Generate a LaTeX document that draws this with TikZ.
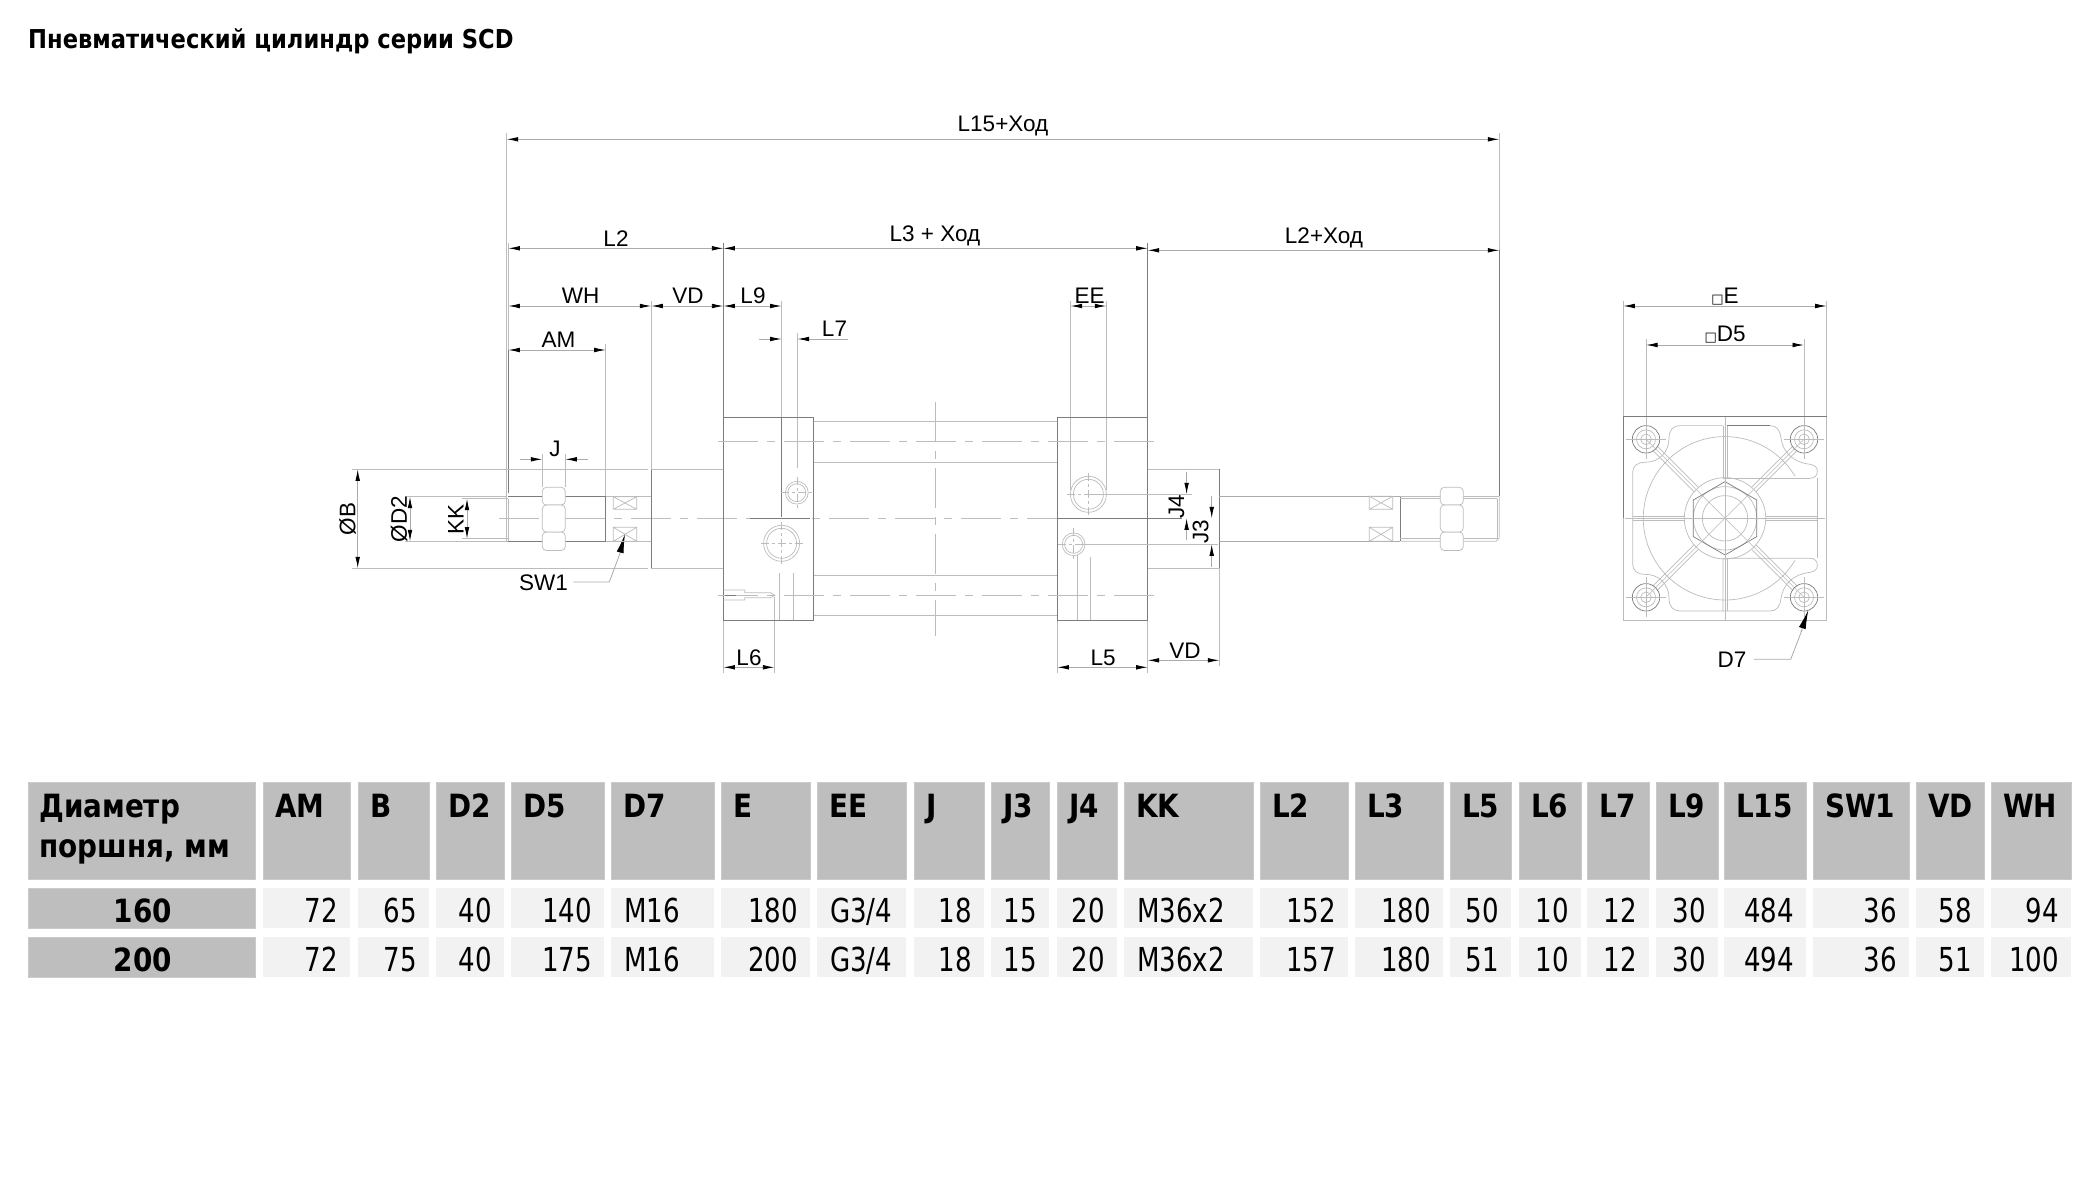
\documentclass[tikz,border=0pt]{standalone}
\usepackage{fontspec}
\usetikzlibrary{arrows.meta}
\setmainfont{Liberation Sans}
\newfontfamily\tfont[FakeStretch=0.79]{DejaVu Sans}
\newfontfamily\tbfont[FakeStretch=0.87]{DejaVu Sans Bold}
\newfontfamily\dvfont{DejaVu Sans}
\definecolor{hdr}{HTML}{BEBEBE}
\definecolor{hdrb}{HTML}{CACACA}
\definecolor{rowc}{HTML}{F2F2F2}
\definecolor{dimc}{HTML}{ABABAB}
\definecolor{objc}{HTML}{7C7C7C}
\definecolor{thin}{HTML}{BCBCBC}
\tikzset{
  ar/.tip={Latex[length=11.5pt,width=4.6pt,black]},
  dim/.style={draw=dimc,line width=0.8pt},
  dimar/.style={dim,{ar}-{ar}},
  endar/.style={dim,-{ar}},
  obj/.style={draw=objc,line width=0.8pt},
  lite/.style={draw=thin,line width=0.7pt},
  center line/.style={draw=thin,line width=0.6pt,dash pattern=on 40pt off 9pt on 8pt off 9pt},
  lbl/.style={inner sep=0pt,font=\fontsize{22.5}{23}\selectfont},
  hcell/.style={fill=hdr,draw=hdrb,line width=1pt},
  vcell/.style={fill=rowc},
  htxt/.style={inner sep=0pt,font=\fontsize{32}{32}\tbfont},
  vtxt/.style={inner sep=0pt,font=\fontsize{33}{33}\tfont},
  flat/.style={draw=thin,line width=0.7pt},
}
\newcommand{\wflat}[4]{\draw[flat] (#1,#2) rectangle (#3,#4) (#1,#2) -- (#3,#4) (#1,#4) -- (#3,#2);}
\newcommand{\hexnut}[1]{%
  \draw[lite,fill=white,rounded corners=4pt] (#1,505) rectangle (#1+23,487.3);
  \draw[lite,fill=white,rounded corners=4pt] (#1,532) rectangle (#1+23,550.5);
  \draw[lite,fill=white,rounded corners=4pt] (#1,505) rectangle (#1+23,532);
}
\begin{document}
\begin{tikzpicture}[x=1pt,y=-1pt]
\useasboundingbox (0,0) rectangle (2084,1180);
\fill[white] (0,0) rectangle (2084,1180);

\node[anchor=base west,inner sep=0pt,font=\fontsize{26}{26}\tbfont] (title) at (28,49) {Пневматический цилиндр серии SCD};

% ---------- table ----------
\draw[hcell] (28,782) rectangle (255,879);
\node[htxt,anchor=base west] (hd1) at (39,817) {Диаметр};
\node[htxt,anchor=base west] (hd2) at (39,857) {поршня, мм};
\draw[hcell] (28,888) rectangle (255,928);
\draw[hcell] (28,937) rectangle (255,977);
\node[htxt,anchor=base] (r160) at (143,922) {160};
\node[htxt,anchor=base] (r200) at (143,971) {200};
\foreach \id/\a/\b/\h/\va/\vb/\m in {
  am/263/350/AM/72/72/0, b/358/429/B/65/75/0, dd/436/504/D2/40/40/0, df/511/604/D5/140/175/0,
  ds/611/714/D7/M16/M16/1, e/721/810/E/180/200/0, ee/817/906/EE/G3\slash 4/G3\slash 4/1, j/914/984/J/18/18/0,
  jt/991/1049/J3/15/15/0, jf/1057/1117/J4/20/20/0, kk/1124/1253/KK/M36x2/M36x2/1, lb/1260/1348/L2/152/157/0,
  lc/1355/1443/L3/180/180/0, le/1450/1511/L5/50/51/0, lf/1519/1581/L6/10/10/0, lg/1587/1649/L7/12/12/0,
  li/1656/1718/L9/30/30/0, lo/1724/1806/L15/484/494/0, sw/1813/1909/SW1/36/36/0, vd/1916/1984/VD/58/51/0,
  wh/1991/2071/WH/94/100/0}{
  \draw[hcell] (\a,782) rectangle (\b,879);
  \fill[vcell] (\a,888) rectangle (\b,928);
  \fill[vcell] (\a,937) rectangle (\b,977);
  \node[htxt,anchor=base west] (h\id) at (\a+12,817) {\h};
  \ifnum\m=1
    \node[vtxt,anchor=base west] (u\id) at (\a+13,922) {\va};
    \node[vtxt,anchor=base west] (w\id) at (\a+13,971) {\vb};
  \else
    \node[vtxt,anchor=base east] (u\id) at (\b-12,922) {\va};
    \node[vtxt,anchor=base east] (w\id) at (\b-12,971) {\vb};
  \fi
}

% ---------- extension lines ----------
\draw[lite] (506.7,133) -- (506.7,496.7);
\draw[lite] (508.3,243) -- (508.3,350);
\draw[obj] (508.3,350) -- (508.3,493);
\draw[lite] (605.7,344) -- (605.7,496.7);
\draw[lite] (651.3,300.7) -- (651.3,469);
\draw[obj] (723.4,243) -- (723.4,417.3);
\draw[lite] (781.6,300.7) -- (781.6,417.3);
\draw[lite] (797.5,333) -- (797.5,468.3);
\draw[obj] (1147.7,243) -- (1147.7,417.3);
\draw[lite] (1070.5,300.7) -- (1070.5,490);
\draw[lite] (1106.3,300.7) -- (1106.3,490);
\draw[lite] (542.3,454) -- (542.3,487.3);
\draw[lite] (565.3,454) -- (565.3,487.3);

% ---------- dimension lines, side view ----------
\draw[dimar] (506.7,139.3) -- (1499.3,139.3);
\draw[lite] (1499.3,133) -- (1499.3,250);
\draw[dimar] (508.3,248.3) -- (723.4,248.3);
\draw[dimar] (723.4,248.3) -- (1147.7,248.3);
\draw[dimar] (1147.7,250.3) -- (1499.3,250.3);
\draw[dimar] (508.3,306) -- (651.3,306);
\draw[dimar] (651.3,306) -- (723.4,306);
\draw[dimar] (723.4,306) -- (781.6,306);
\draw[dimar] (1070.5,306) -- (1106.3,306);
\draw[dimar] (508.3,350) -- (605.7,350);
\draw[endar] (759,339) -- (781.6,339);
\draw[endar] (848,339) -- (797.5,339);
\draw[endar] (520,459.3) -- (542.3,459.3);
\draw[endar] (587.7,459.3) -- (565.3,459.3);
\draw[dimar] (357.7,469.3) -- (357.7,568.3);
\draw[dimar] (410,496.7) -- (410,541.3);
\draw[dimar] (467,498.7) -- (467,538.7);
\draw[dimar] (723.4,667.3) -- (774.4,667.3);
\draw[dimar] (1057.4,667.3) -- (1147.7,667.3);
\draw[dimar] (1147.7,660.3) -- (1219.3,660.3);
\draw[endar] (1186.6,471.7) -- (1186.6,494.3);
\draw[endar] (1186.6,540) -- (1186.6,518.3);
\draw[endar] (1211.7,496) -- (1211.7,518.3);
\draw[endar] (1211.7,566.7) -- (1211.7,544.3);
% lower extensions
\draw[lite] (352.3,469.3) -- (648,469.3);
\draw[lite] (352.3,568.3) -- (648,568.3);
\draw[lite] (405,496.7) -- (506.7,496.7);
\draw[lite] (405,541.3) -- (506.7,541.3);
\draw[lite] (461.7,498.7) -- (508.3,498.7);
\draw[lite] (461.7,538.7) -- (508.3,538.7);
\draw[lite] (723.4,620.3) -- (723.4,672.7);
\draw[lite] (774.4,596.7) -- (774.4,672.7);
\draw[lite] (1057.4,620.3) -- (1057.4,672.7);
\draw[lite] (1147.7,620.3) -- (1147.7,672.7);
\draw[lite] (1219.3,568.3) -- (1219.3,666);
% SW1 leader
\draw[dim] (573.3,582) -- (609.3,582) -- (622,548);
\draw[dim,-{Latex[length=19pt,width=7pt,black]}] (620,553) -- (625,534);

% ---------- left rod ----------
\draw[center line] (499,518.3) -- (1150,518.3);
\draw[obj] (508.3,496.7) -- (605.7,496.7) -- (605.7,541.3) -- (508.3,541.3);
\draw[lite] (506.7,496.7) -- (506.7,541.3) -- (508.3,541.3);
\draw[lite] (508.3,498.7) -- (508.3,541.3);
\hexnut{542.3}
\draw[lite] (605.7,496.7) -- (651.3,496.7);
\draw[lite] (605.7,541.3) -- (651.3,541.3);
\wflat{613.3}{496.7}{636.7}{509.3}
\wflat{613.3}{527.3}{636.7}{541.3}
\draw[obj] (651.3,469.3) -- (651.3,568.3);
\draw[lite] (651.3,469.3) -- (723.4,469.3);
\draw[lite] (651.3,568.3) -- (723.4,568.3);

% ---------- body ----------
\draw[obj] (723.4,417.3) rectangle (813.6,620.3);
\draw[obj] (1057.4,417.3) rectangle (1147.7,620.3);
\draw[obj] (781.6,417.3) -- (781.6,516.7);
\draw[lite] (813.6,421.7) -- (1057.4,421.7);
\draw[lite] (813.6,462.3) -- (1057.4,462.3);
\draw[lite] (813.6,575.7) -- (1057.4,575.7);
\draw[lite] (813.6,615.7) -- (1057.4,615.7);
\draw[center line] (718,441.3) -- (1154,441.3);
\draw[center line] (718,595.3) -- (1154,595.3);
\draw[obj] (750,518.3) -- (810,518.3);
\draw[obj] (1057.4,518.3) -- (1182,518.3);
\draw[center line] (935.5,401.7) -- (935.5,635.7);
% ports
\foreach \px/\py/\ra/\rb/\cl in {796.8/492.7/11.4/9/16, 781.6/543.3/18/15/21, 1088.4/494.3/18/15/21, 1073.6/544.3/11.4/9/16}{
  \draw[lite] (\px,\py) circle[radius=\ra pt];
  \draw[lite] (\px,\py) circle[radius=\rb pt];
  \draw[draw=thin,line width=0.5pt,dash pattern=on 8pt off 3pt on 3pt off 3pt] (\px-\cl,\py) -- (\px+\cl,\py);
  \draw[draw=thin,line width=0.5pt,dash pattern=on 8pt off 3pt on 3pt off 3pt] (\px,\py-\cl) -- (\px,\py+\cl);
}
\draw[lite] (1092,494.3) -- (1192.4,494.3);
\draw[lite] (1077,544.3) -- (1218,544.3);
\draw[lite] (779.2,573) -- (779.2,620);
\draw[lite] (793.7,573) -- (793.7,620);
\draw[lite] (1077.7,555) -- (1077.7,620);
\draw[lite] (1090.5,557) -- (1090.5,620);
% mounting screw
\draw[lite] (723.4,590) -- (744.8,590) -- (744.8,592.7) -- (770.6,592.7) -- (775,595.3) -- (770.6,597.7) -- (744.8,597.7) -- (744.8,600) -- (723.4,600);
\draw[draw=objc,line width=1.6pt] (725,595.3) -- (736,595.3);

% right cap and rod
\draw[lite] (1147.7,469.3) -- (1219.3,469.3);
\draw[lite] (1147.7,568.3) -- (1219.3,568.3);
\draw[obj] (1219.3,469.3) -- (1219.3,568.3);
\draw[dim] (1219.3,496.3) -- (1400.3,496.3);
\draw[dim] (1219.3,541.3) -- (1400.3,541.3);
\wflat{1369.3}{496.3}{1392.7}{509.3}
\wflat{1369.3}{527.3}{1392.7}{541.3}
\draw[obj] (1400.3,496.3) -- (1400.3,541.3);
\draw[lite] (1400.3,496.3) -- (1499.3,496.3);
\draw[lite] (1400.3,498.7) -- (1497,498.7);
\draw[lite] (1400.3,538.7) -- (1497,538.7);
\draw[lite] (1400.3,541.3) -- (1496,541.3) -- (1499.3,538) -- (1499.3,496.3);
\draw[lite] (1497,498.7) -- (1497,538.7);
\hexnut{1440.3}
\draw[obj] (1499.3,250.3) -- (1499.3,496.3);

% ---------- end view ----------
\draw[lite] (1623.3,300.7) -- (1623.3,416.7);
\draw[lite] (1826.7,300.7) -- (1826.7,416.7);
\draw[lite] (1646,339) -- (1646,420);
\draw[lite] (1804,339) -- (1804,420);
\draw[dimar] (1623.3,306) -- (1826.7,306);
\draw[dimar] (1646,345) -- (1804,345);
\draw[lite] (1623.3,416.7) rectangle (1826.7,620.3);
\draw[obj] (1623.3,518.3) -- (1623.3,416.7) -- (1826.7,416.7);
\begin{scope}[shift={(1725,518.3)}]
  \draw[lite] (70,-42.1) arc[start angle=31,end angle=329,radius=81.7pt];
  \draw[lite] (0,0) circle[radius=40.7pt];
  \draw[lite] (0,0) circle[radius=22.7pt];
  \draw[lite] (0,0) circle[radius=31.7pt];
  \draw[obj,line width=0.7pt] (0,-36.7) -- (31.7,-18.3) -- (31.7,18.3) -- (0,36.7) -- (-31.7,18.3) -- (-31.7,-18.3) -- cycle;
  % outline
  \draw[lite] (-2,-92.7) -- (-45,-92.7) .. controls (-52,-92.7) and (-56,-88) .. (-56,-80)
     .. controls (-56,-66) and (-66,-56) .. (-80,-56) .. controls (-88,-56) and (-92.3,-52) .. (-92.3,-46)
     -- (-92.3,46) .. controls (-92.3,52) and (-88,56) .. (-80,56) .. controls (-66,56) and (-56,66) .. (-56,80)
     .. controls (-56,88) and (-52,92.7) .. (-45,92.7) -- (45,92.7)
     .. controls (52,92.7) and (55,88) .. (56,80) .. controls (58,66) and (68,56) .. (85,54)
     .. controls (90,53) and (92.3,51) .. (92.3,47) .. controls (92.3,43) and (90,40) .. (85,40) -- (-2,40) -- (-2,92.7);
  \draw[obj,line width=0.7pt] (2,-92.7) -- (45,-92.7);
  \draw[lite] (45,-92.7) .. controls (52,-92.7) and (55,-88) .. (56,-80) .. controls (58,-66) and (68,-56) .. (85,-54)
     .. controls (90,-53) and (92.3,-51) .. (92.3,-47) .. controls (92.3,-43) and (90,-40) .. (85,-40);
  \draw[lite] (85,-40) -- (-2,-40) -- (-2,-92.7);
  \draw[lite] (92.3,-40) -- (92.3,40);
  \draw[lite] (2,-92.7) -- (2,-40);
  \draw[lite] (2,40) -- (2,92.7);
  \draw[lite] (-92.3,-2) -- (-40.7,-2);
  \draw[lite] (-92.3,2) -- (-40.7,2);
  \draw[lite] (40.7,-2) -- (92.3,-2);
  \draw[lite] (40.7,2) -- (92.3,2);
  % diagonal ribs
  \foreach \sa/\sb in {1/1,1/-1,-1/1,-1/-1}{
    \draw[lite] (\sa*70+2.2*\sa,\sb*70-2.2*\sb) -- (\sa*29+2.2*\sa,\sb*29-2.2*\sb);
    \draw[lite] (\sa*70-2.2*\sa,\sb*70+2.2*\sb) -- (\sa*29-2.2*\sa,\sb*29+2.2*\sb);
  }
  \draw[draw=thin,line width=0.5pt] (-79,-79) -- (79,79);
  \draw[draw=thin,line width=0.5pt] (-79,79) -- (79,-79);
\end{scope}
\draw[lite] (1625,518.3) -- (1825,518.3);
\draw[lite] (1725,416.7) -- (1725,620.3);
\foreach \bx/\by in {1646/439.3,1804/439.3,1646/597.3,1804/597.3}{
  \draw[obj,line width=0.7pt] (\bx,\by) circle[radius=13.7pt];
  \draw[lite] (\bx,\by) circle[radius=9.5pt];
  \draw[lite] (\bx,\by) circle[radius=5.3pt];
  \draw[draw=thin,line width=0.5pt] (\bx-20,\by) -- (\bx+20,\by);
  \draw[draw=thin,line width=0.5pt] (\bx,\by-20) -- (\bx,\by+20);
}
% D7 leader
\draw[dim] (1754,659.3) -- (1790.7,659.3) -- (1802,630);
\draw[dim,-{Latex[length=19pt,width=7pt,black]}] (1801,632) -- (1808.3,610);

% ---------- labels ----------
\node[lbl] (tL15) at (1003,126) {L15+Ход};
\node[lbl] (tL2a) at (616,239) {L2};
\node[lbl] (tL3) at (935,236) {L3 + Ход};
\node[lbl] (tL2b) at (1324,238) {L2+Ход};
\node[lbl] (tWH) at (580.5,296) {WH};
\node[lbl] (tVDa) at (688,296) {VD};
\node[lbl] (tL9) at (753,296) {L9};
\node[lbl] (tEE) at (1089.5,296) {EE};
\node[lbl] (tAM) at (558.5,340) {AM};
\node[lbl] (tL7) at (834.5,329) {L7};
\node[lbl] (tJ) at (555,449) {J};
\node[lbl,rotate=90] (tB) at (347.5,519) {ØB};
\node[lbl,rotate=90] (tD2) at (399,519) {ØD2};
\node[lbl,rotate=90] (tKK) at (456,519) {KK};
\node[lbl] (tSW) at (543.5,583) {SW1};
\node[lbl,rotate=90] (tJ4) at (1176.5,506.5) {J4};
\node[lbl,rotate=90] (tJ3) at (1200.5,531.5) {J3};
\node[lbl] (tL6) at (749,658) {L6};
\node[lbl] (tL5) at (1103,658) {L5};
\node[lbl] (tVDb) at (1185,651) {VD};
\node[lbl] (tE) at (1725,297) {{\fontsize{13}{13}\dvfont □}E};
\node[lbl] (tD5) at (1725,335) {{\fontsize{13}{13}\dvfont □}D5};
\node[lbl] (tD7) at (1732,660) {D7};
\end{tikzpicture}
\end{document}
